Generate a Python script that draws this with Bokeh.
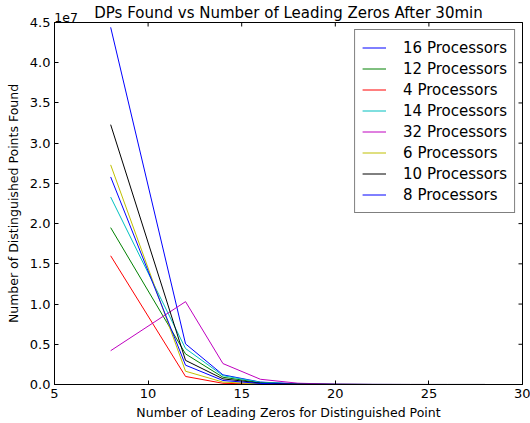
import math
from bokeh.plotting import figure
from bokeh.models import (Range1d, LinearAxis, FixedTicker, CustomJSTickFormatter,
                          Legend, LegendItem)
from bokeh.embed import file_html
from bokeh.resources import INLINE

title_text = "DPs Found vs Number of Leading Zeros After 30min"
x_label = "Number of Leading Zeros for Distinguished Point"
y_label = "Number of Distinguished Points Found"
offset_text = "1e7"

leading_zeros = [8, 12, 14, 16, 18, 20, 22, 24, 26, 28]

series_names = ["16 Processors", "12 Processors", "4 Processors", "14 Processors",
                "32 Processors", "6 Processors", "10 Processors", "8 Processors"]

p16 = [44400000, 5050000, 1200000, 300000, 76000, 19000, 4700, 1200, 300, 70]
p12 = [19500000, 3800000, 900000, 230000, 57000, 14000, 3600, 900, 220, 55]
p4 = [16000000, 1000000, 150000, 38000, 9500, 2400, 600, 150, 40, 10]
p14 = [23300000, 4470000, 1100000, 275000, 69000, 17000, 4300, 1100, 270, 65]
p32 = [4200000, 10300000, 2600000, 650000, 160000, 40000, 10000, 2500, 620, 150]
p6 = [27300000, 1650000, 300000, 75000, 19000, 4700, 1200, 300, 75, 20]
p10 = [32300000, 3000000, 700000, 175000, 44000, 11000, 2700, 680, 170, 40]
p8 = [25800000, 2400000, 500000, 125000, 31000, 7800, 2000, 490, 120, 30]

series_values = [p16, p12, p4, p14, p32, p6, p10, p8]
colors = ["#0000ff", "#008000", "#ff0000", "#00bfbf", "#bf00bf", "#bfbf00", "#000000", "#0000ff"]

x_ticks = [5, 10, 15, 20, 25, 30]
y_ticks = [0, 5e6, 1e7, 1.5e7, 2e7, 2.5e7, 3e7, 3.5e7, 4e7, 4.5e7]

FONT = "DejaVu Sans"
x0, x1 = x_ticks[0], x_ticks[-1]
y0, y1 = y_ticks[0], y_ticks[-1]
# the exponent text is centred on its (invisible) tick: shift it so it starts at the left edge
offset_pos = x0 + 0.62

p = figure(width=530, height=423, output_backend="svg", toolbar_location=None,
           x_range=Range1d(x0, x1), y_range=Range1d(y0, y1),
           min_border_left=54, min_border_right=8, min_border_top=22, min_border_bottom=39)
p.title = None
p.xgrid.visible = False
p.ygrid.visible = False
p.outline_line_color = "black"
p.outline_line_width = 1
p.background_fill_color = "white"
p.border_fill_color = "white"

def style_axis(ax):
    ax.major_tick_in = 4
    ax.major_tick_out = 0
    ax.minor_tick_in = 0
    ax.minor_tick_out = 0
    ax.axis_line_color = "black"
    ax.major_tick_line_color = "black"
    ax.major_label_text_font = FONT
    ax.major_label_text_color = "black"
    ax.major_label_text_font_size = "13px"
    ax.axis_label_text_font = FONT
    ax.axis_label_text_font_style = "normal"
    ax.axis_label_text_font_size = "12.5px"
    ax.axis_label_text_color = "black"

xa = p.xaxis[0]
ya = p.yaxis[0]
xa.ticker = FixedTicker(ticks=x_ticks)
ya.ticker = FixedTicker(ticks=y_ticks)
ya.formatter = CustomJSTickFormatter(code="return (tick/1e7).toFixed(1);")
style_axis(xa)
style_axis(ya)
xa.axis_label = x_label
ya.axis_label = y_label
xa.major_label_standoff = 4
xa.axis_label_standoff = 4
ya.major_label_standoff = 4
ya.axis_label_standoff = 6

# top axis: carries the exponent text and the chart title
top = LinearAxis(ticker=FixedTicker(ticks=[offset_pos]),
                 major_label_overrides={offset_pos: offset_text})
style_axis(top)
top.major_tick_in = 0
top.major_label_text_font_size = "12.5px"
top.major_label_standoff = 1
top.axis_label = title_text
top.axis_label_text_font_size = "15px"
top.axis_label_standoff = -12
p.add_layout(top, "above")

# inward ticks on the top and right edges (half of each dash is clipped away)
p.scatter(x_ticks, [y1] * len(x_ticks), marker="dash", size=8, angle=math.pi / 2,
          line_color="black", line_width=1)
p.scatter([x1] * len(y_ticks), y_ticks, marker="dash", size=8,
          line_color="black", line_width=1)

items = []
for name, vals, c in zip(series_names, series_values, colors):
    r = p.line(leading_zeros, vals, line_color=c, line_width=1)
    items.append(LegendItem(label=name, renderers=[r]))

legend = Legend(items=items, location="top_right")
legend.label_text_font = FONT
legend.label_text_font_size = "15px"
legend.label_text_color = "black"
legend.border_line_color = "black"
legend.border_line_width = 1
legend.background_fill_alpha = 1
legend.padding = 7
legend.spacing = 0
legend.margin = 7
legend.label_height = 21
legend.glyph_height = 21
legend.glyph_width = 24
legend.label_standoff = 17
p.add_layout(legend, "center")

open("out.html", "w").write(file_html(p, INLINE))
